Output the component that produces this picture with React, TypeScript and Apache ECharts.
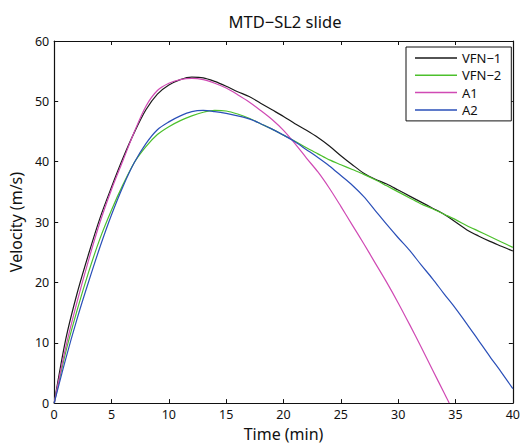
import React, { useEffect, useRef } from "react";
import * as echarts from "echarts";

const times = [0, 1, 2, 3, 4, 5, 6, 7, 8, 9, 10, 11, 12, 13, 14, 15, 16, 17, 18, 19, 20, 21, 22, 23, 24, 25, 26, 27, 28, 29, 30, 31, 32, 33, 34, 35, 36, 37, 38, 39, 40];
const vfn1 = [0, 10.5, 18.2, 24.7, 30.7, 35.8, 40.6, 44.9, 48.6, 51.2, 52.7, 53.6, 54.0, 53.9, 53.3, 52.5, 51.6, 50.8, 49.7, 48.6, 47.5, 46.3, 45.2, 44.0, 42.6, 41.0, 39.5, 38.1, 37.1, 36.3, 35.3, 34.3, 33.3, 32.3, 31.3, 30.0, 28.7, 27.7, 26.8, 26.0, 25.2];
const vfn2 = [0, 8.4, 15.4, 21.7, 27.3, 32.0, 36.2, 39.9, 42.5, 44.5, 45.8, 46.8, 47.6, 48.2, 48.5, 48.4, 47.9, 47.2, 46.3, 45.4, 44.4, 43.4, 42.3, 41.3, 40.3, 39.5, 38.7, 37.9, 37.0, 36.0, 35.0, 34.0, 33.0, 32.2, 31.3, 30.4, 29.4, 28.5, 27.6, 26.7, 25.8];
const a1Times = [0, 1, 2, 3, 4, 5, 6, 7, 8, 9, 10, 11, 12, 13, 14, 15, 16, 17, 18, 19, 20, 21, 22, 23, 24, 25, 26, 27, 28, 29, 30, 31, 32, 33, 34, 34.45];
const a1 = [0, 9.2, 16.8, 23.7, 30.0, 35.4, 40.2, 45.0, 49.2, 51.8, 53.0, 53.6, 53.8, 53.6, 53.0, 52.2, 51.1, 49.9, 48.5, 47.0, 45.2, 43.0, 40.6, 38.3, 35.6, 32.6, 29.5, 26.4, 23.2, 20.0, 16.6, 13.0, 9.3, 5.5, 1.7, 0];
const a2 = [0, 7.3, 14.0, 20.1, 25.9, 31.2, 35.9, 39.9, 43.0, 45.3, 46.6, 47.6, 48.3, 48.5, 48.3, 48.0, 47.6, 47.1, 46.3, 45.4, 44.4, 43.3, 42.0, 40.7, 39.3, 37.7, 36.1, 34.2, 31.9, 29.6, 27.4, 25.3, 22.9, 20.6, 18.1, 15.7, 13.1, 10.4, 7.7, 5.1, 2.4];

const seriesNames = ["VFN\u22121", "VFN\u22122", "A1", "A2"];
const seriesColors = ["#1a1a1a", "#4cc02c", "#d04ab4", "#2a4fb8"];
const xTicks = { min: 0, max: 40, interval: 5 };
const yTicks = { min: 0, max: 60, interval: 10 };

const FONT = "Noto Sans";

const pairs = (xs: number[], ys: number[]) => ys.map((v, i) => [xs[i], v]);

export default function App() {
  const ref = useRef<HTMLDivElement>(null);
  useEffect(() => {
    if (!ref.current) return;
    const chart = echarts.init(ref.current, undefined, { renderer: "svg" });
    const axisLine = { show: true, onZero: false, lineStyle: { color: "#111", width: 1.2 } };
    const tick = { show: true, inside: true, length: 4, lineStyle: { color: "#111", width: 1 } };
    const label = { color: "#111", fontFamily: FONT, fontSize: 12.5 };
    const datasets = [pairs(times, vfn1), pairs(times, vfn2), pairs(a1Times, a1), pairs(times, a2)];
    chart.setOption({
      animation: false,
      backgroundColor: "#ffffff",
      title: {
        text: "MTD\u2212SL2 slide",
        left: 280,
        top: 8,
        textAlign: "center",
        textStyle: { fontFamily: FONT, fontSize: 16.5, fontWeight: "normal", color: "#111" },
      },
      grid: { left: 54, right: 6, top: 41, bottom: 42 },
      legend: {
        orient: "vertical",
        left: 406,
        top: 47,
        width: 104,
        padding: [3, 10, 3, 9],
        itemGap: 1.3,
        itemWidth: 42,
        itemHeight: 1.5,
        icon: "rect",
        borderColor: "#111",
        borderWidth: 1,
        backgroundColor: "#fff",
        textStyle: { fontFamily: FONT, fontSize: 13, color: "#111", lineHeight: 16 },
        data: seriesNames,
      },
      xAxis: [
        {
          type: "value",
          ...xTicks,
          name: "Time (min)",
          nameLocation: "middle",
          nameGap: 21,
          nameTextStyle: { fontFamily: FONT, fontSize: 16, color: "#111" },
          axisLine,
          axisTick: tick,
          axisLabel: { ...label, margin: 5 },
          splitLine: { show: false },
        },
        {
          type: "value",
          position: "top",
          ...xTicks,
          axisLine,
          axisTick: tick,
          axisLabel: { show: false },
          splitLine: { show: false },
        },
      ],
      yAxis: [
        {
          type: "value",
          ...yTicks,
          name: "Velocity (m/s)",
          nameLocation: "middle",
          nameGap: 30,
          nameTextStyle: { fontFamily: FONT, fontSize: 16, color: "#111" },
          axisLine,
          axisTick: tick,
          axisLabel: { ...label, margin: 5 },
          splitLine: { show: false },
        },
        {
          type: "value",
          position: "right",
          ...yTicks,
          axisLine,
          axisTick: tick,
          axisLabel: { show: false },
          splitLine: { show: false },
        },
      ],
      series: seriesNames.map((name, i) => ({
        name,
        type: "line",
        data: datasets[i],
        showSymbol: false,
        smooth: 0.3,
        clip: true,
        lineStyle: { color: seriesColors[i], width: 1.2 },
        itemStyle: { color: seriesColors[i] },
      })),
    });
    return () => chart.dispose();
  }, []);
  return <div ref={ref} style={{ position: "fixed", left: 0, top: 0, width: 523, height: 447 }} />;
}
